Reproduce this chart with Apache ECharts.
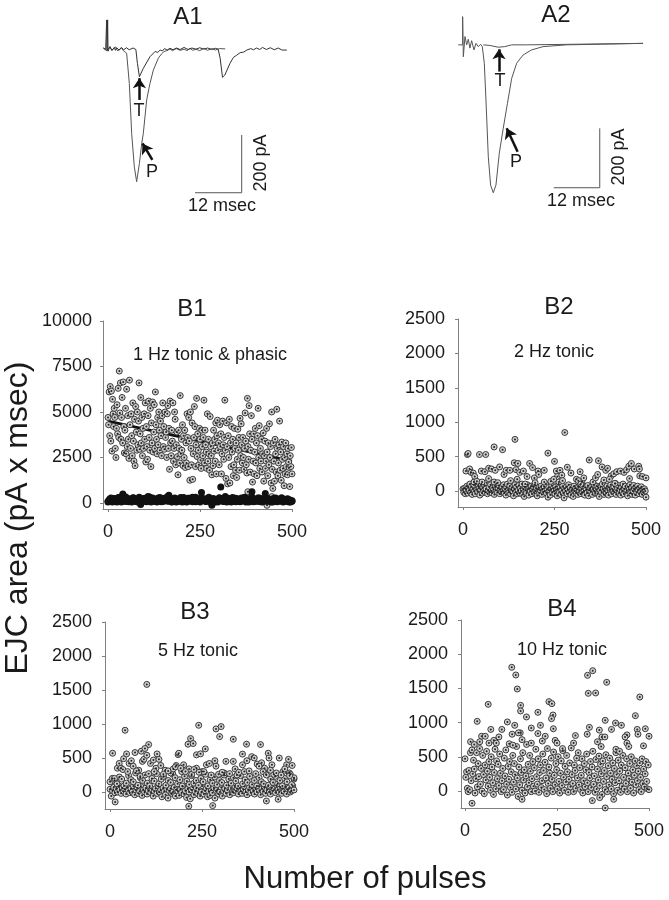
<!DOCTYPE html>
<html><head><meta charset="utf-8">
<script src="https://cdn.jsdelivr.net/npm/echarts@6/dist/echarts.min.js"></script>
<style>html,body{margin:0;padding:0;background:#fff}#c{width:669px;height:900px}</style></head>
<body><div id="c"></div>
<script>
// A1 traces: [msec, pA]
const a1Phasic=[[3.4,0],[4.2,-8],[5,4],[5.6,-6],[6.5,5],[7,-8],[7.6,-5],[8,2],[8.5,-8],[9.35,-17],[10.03,-121],[10.63,-293],[11.3,-408],[11.9,-460],[12.6,-397],[13.2,-328],[13.6,-293],[14.46,-178],[15.3,-121],[16.16,-75],[17.43,-34],[18.2,-20],[18.9,-11],[19.6,-8],[20.4,-2],[21,-8],[22,-1],[23,-7],[24,-3],[24.8,-8],[25.5,0],[26.2,-7],[27,-3],[28,-8],[29,0],[30,-7],[31,-1],[32,-6],[33,-1],[34.5,-2]];
const a1Tonic=[[3.4,2],[4,-4],[4.25,98],[4.35,-8],[4.5,98],[4.6,-10],[5.1,6],[5.6,-8],[6.2,3],[6.5,-7],[6.8,2],[7.4,-6],[8,3],[8.6,-5],[9.3,2],[10,-5],[11,1],[11.7,-4],[12.1,-52],[12.6,-98],[13.6,-69],[15.3,-29],[16.6,-11],[17.3,-14],[17.9,-6],[18.5,-9],[19,-1],[19.7,-6],[20.4,0],[21.2,-5],[22,1],[23,-4],[24,3],[25,-4],[26,1],[27,-3],[28,2],[29,-3],[30,1],[31,-4],[32,0],[32.7,-3],[33.2,-34],[33.8,-100],[34.4,-92],[35.7,-52],[36.6,-31],[37.4,-24],[38.3,-15],[39.2,-13],[40,-6],[41,-1],[41.7,-5],[42.5,1],[43.3,-4],[44,3],[45,-4],[46,2],[47,-5],[48,1],[49,-6],[50.2,-6]];
// A2 traces: [msec, pA]
const a2Phasic=[[2.17,-2],[3.3,-2],[3.3,93],[3.48,-42],[3.91,26],[4.35,-2],[4.78,17],[5.2,-13],[5.65,12],[6.26,-19],[6.78,3],[7.39,-8],[8,0],[8.43,-8],[8.96,-64],[9.39,-188],[10,-379],[10.6,-474],[11.3,-500],[12,-474],[12.87,-367],[13.9,-283],[15,-199],[16.1,-115],[17.4,-64],[19.1,-36],[21.3,-19],[24.3,-8],[30.4,-2],[50.4,3]];
const a2Tonic=[[8.7,-2],[10.4,-4],[12.6,-10],[14.3,-8],[16.1,-2],[20,-2],[50.4,3]];
const a1Arrows=[[[12.6,-178],[12.6,-103]],[[15.9,-385],[13.4,-328]]];
const a2Arrows=[[[12.8,-92],[12.8,-17]],[[17.65,-362],[14.8,-283]]];
const a1Scale=[[26.8,-498],[38.7,-498],[38.7,-299]];
const a2Scale=[[27.1,-483],[39.1,-483],[39.1,-283]];

// B1: phasic responses, one value per evenly spaced pulse
const b1Phasic=[4700,4300,6100,3700,6400,3400,6150,2850,5700,4900,4200,5200,4700,3000,2500,4100,5400,3800,6300,3600,
7250,4950,6600,3500,4700,5800,3300,6650,4200,2750,4000,5200,2700,6250,3100,4800,3500,2450,6750,4300,
3000,4900,3700,2600,5500,3400,2300,4600,2050,5300,3900,2900,5000,3200,4500,6600,2950,3800,5800,3300,
4700,2600,4100,3000,4900,3500,5500,2250,4200,3100,2400,4800,5600,3600,2900,5200,2000,4400,3300,5550,
2800,3900,5400,3000,6100,4300,3500,2700,4700,3200,5000,4000,2900,4500,3700,2600,4800,5500,3100,4200,
2950,5000,3600,3900,2500,4900,5350,3000,4100,1850,5600,3300,2600,4000,3400,5500,2300,3000,5000,4600,
2100,3200,3900,2550,1550,4000,3000,2200,5900,2700,3500,2900,4300,2050,3700,2500,4000,1950,3300,2200,
4900,3600,2000,4700,3400,1250,5000,3000,2100,4400,1300,2700,3600,5300,4200,2000,3200,5750,2550,3800,
2900,2100,4100,3500,2350,1900,4000,3100,2600,3600,5650,2200,4000,3200,2800,1900,4900,2300,3500,2700,
1800,4750,3100,2600,1550,3300,2050,4000,2850,3500,2300,4400,1600,3700,4550,2900,3300,2100,4300,3100,
3800,1600,2700,4500,3200,2400,3600,5650,2900,1350,4400,3100,1050,3700,2500,4600,1100,3300,2000,4200,
2800,3500,1500,2100,4100,3000,1800,3300,1400,2400,4050,2900,3600,1800,4650,2600,4350,3200,2200,3600,
2500,1850,3000,4950,3400,2100,1650,5750,3100,2400,5350,3800,1700,2900,4800,3500,1150,2300,3800,1600,
2800,4100,2200,3300,1500,3700,5200,2500,4250,1900,3000,2300,3500,1700,2700,3850,1200,2600,3400,1900,
2300,4100,2800,1500,3300,2100,4350,2500,3100,1100,5000,1850,800,3300,2300,1200,3500,2700,1700,5150,
3000,1500,2200,3200,4500,1800,2800,1250,3350,2400,1900,3100,950,2500,1600,3300,2000,2700,1550,3000,
2250,1950,900,2600,2000,3050,1600];
const b1Overlay=[[380,620],[445,350],[432,-130]];
const b1Tonic=[50,120,180,90,250,140,60,300,210,130,500,170,80,240,110,190,60,270,150,90,
210,130,-80,180,100,260,70,150,330,120,200,90,170,60,280,130,210,80,160,240,
110,430,190,70,230,140,60,180,120,300,90,210,150,60,260,130,180,320,100,70,
160,240,110,580,190,130,80,220,150,90,-130,200,60,170,110,260,880,140,80,360,
230,100,170,60,190,120,260,90,150,70,240,130,310,180,100,60,210,620,140,80,
190,110,270,70,160,120,520,90,230,140,60,200,110,280,80,170,130,240,60,200,150,90,180,60,120];
const b1Tonic2=[100,200,280,60,170,230,90,150,310,50,260,120,330,180,70,240,140,290,100,210,
60,320,160,80,250,190,110,350,130,60,270,200,90,230,150,300,70,180,260,120,
340,100,220,60,190,280,140,80,240,170,50,300,120,210,90,260,150,70,230,320,
110,180,60,270,140,240,90,200,310,60,150,250,100,180,60,290,130,220,80,170,
60,260,110,200,300,140,70,230,160,90,280,120,210,60,250,150,100,330,70,190,
130,270,80,220,60,160,300,110,240,90,180,60,260,140,70,210,120,290,80,170,100,230,60,150,90];
const b1Trend=[[0,4500],[125,3950],[250,3400],[375,2850],[500,2300]];

// B2
const b2Upper=[[8,290],[12,530],[14,545],[18,320],[22,270],[28,260],[32,210],[45,530],[50,290],[62,530],[60,280],[70,330],[85,640],[78,320],[88,300],[108,600],[100,350],[112,240],[118,300],[128,300],[142,750],[140,410],[150,400],[145,310],[155,270],[165,290],[175,210],[182,400],[190,340],[195,190],[205,290],[207,240],[222,300],[232,550],[250,430],[255,290],[258,210],[265,300],[270,230],[278,850],[285,345],[295,260],[310,170],[320,280],[325,130],[330,190],[345,450],[370,440],[380,350],[390,300],[395,330],[405,220],[412,250],[420,280],[430,290],[440,270],[447,310],[453,360],[460,400],[455,180],[468,320],[480,360],[482,320],[483,220],[490,210],[500,190],[30,130],[38,140],[52,130],[70,180],[85,130],[95,120],[130,150],[148,170],[170,100],[197,120],[222,130],[240,140],[248,170],[262,130],[272,150],[315,150],[322,100],[355,130],[362,190],[368,240],[385,160],[400,170],[415,110]];
const b2Band=[30,-20,40,-40,20,70,-30,50,10,100,-20,60,-50,30,90,0,-40,110,20,-10,70,40,-60,20,100,-30,50,0,80,-20,
30,120,-40,10,60,-20,90,0,-30,50,20,-50,70,10,110,-20,40,80,-40,20,-10,60,0,90,-30,30,-60,50,100,10,
-20,70,-40,20,50,0,-70,30,90,-20,60,-40,10,80,-30,40,0,100,-50,20,-80,60,10,-30,90,30,-60,40,0,70,
-40,20,60,-20,90,0,40,-70,20,50,-30,10,70,-50,30,-10,60,0,100,-30,20,-90,50,10,-60,30,80,-20,40,0,
-40,60,20,-70,30,100,-20,50,-50,10,70,-30,-100,40,0,60,-40,20,90,-20,50,-60,10,30,-80,70,0,40,-30,20,
-50,60,10,90,-40,30,-20,70,0,-60,50,20,-30,80,-70,10,40,-10,60,-50,30,90,0,-30,20,70,-40,50,-80,10,
60,-20,100,30,-50,0,40,-30,70,10,-60,50,20,90,-40,30,0,60,-20,110,-50,10,40,80,-30,20,-60,50,0,100,
-40,30,70,-20,10,-70,60,20,90,-30,40,-50,0,80,30,-60,50,-20,70,10,-40,40,-10,60,-50,20,-20,30,0,-90];
const b2Trend=[[0,40],[500,20]];

// B3
const b3Upper=[[7,570],[41,908],[100,1582],[105,698],[241,981],[219,786],[212,703],[226,713],[235,547],[246,561],[259,634],[288,928],[302,962],[298,815],[335,776],[371,703],[360,557],[409,698],[214,-210],[279,-200],[425,-132],[457,-107],[14,-146],
[20,350],[25,420],[30,350],[35,330],[37,490],[45,560],[52,420],[58,460],[63,380],[68,580],[78,320],[85,600],[88,450],[95,640],[92,480],[100,540],[110,420],[118,470],[125,350],[128,560],[133,480],[138,390],[150,320],[165,280],[180,390],[185,550],[187,570],[195,300],[200,400],[215,340],[222,260],[235,350],[250,300],[262,400],[270,420],[285,460],[288,380],[295,260],[310,280],[315,450],[335,450],[340,340],[345,250],[360,400],[372,460],[385,520],[392,500],[400,410],[412,430],[420,350],[430,570],[432,500],[440,400],[445,260],[460,500],[470,300],[480,400],[485,480],[490,260],[495,390],[500,210],
[12,200],[48,300],[72,310],[82,230],[105,270],[120,300],[145,260],[158,310],[172,340],[178,370],[192,350],[205,300],[228,330],[242,290],[255,300],[275,250],[305,290],[325,270],[350,290],[365,300],[378,310],[396,270],[405,380],[416,300],[425,250],[436,320],[452,280],[465,250],[475,340],[488,240]];
const b3Mid=[150,200,170,120,220,190,90,130,240,180,150,280,100,210,170,250,130,90,200,160,
270,120,190,230,100,170,140,260,210,120,180,90,230,160,110,240,130,170,100,200,
150,260,90,180,130,220,110,170,140,250,100,190,130,210,160,90,240,120,180,140,
230,110,170,90,210,150,120,260,100,190,140,230,120,170,90,200,150,280,110,190];
const b3Band=[40,-60,20,70,-10,50,0,90,30,-20,60,10,40,-30,70,20,-10,50,0,90,-40,30,60,-20,10,80,-50,30,0,60,
-30,20,70,-10,40,-60,10,50,-20,90,0,30,-70,60,10,-40,40,-90,20,50,-20,0,70,-60,30,10,-50,40,-10,80,
-30,20,-80,50,0,-100,30,70,-40,10,60,-20,40,-60,0,90,-30,20,50,-70,10,-50,30,-10,60,-90,20,40,-30,0,
70,-60,10,50,-20,30,100,-40,60,0,-10,90,20,50,-30,60,10,-20,40,80,0,-40,30,70,-10,50,20,-30,60,0,
90,20,-40,50,10,70,-20,30,90,0,-30,60,20,40,-10,100,30,0,70,-20,50,10,80,-30,40,60,0,20,90,30];
const b3Trend=[[0,50],[125,40],[250,0],[300,60],[375,30],[500,30]];

// B4
const b4Upper=[[127,1808],[138,1696],[142,1491],[63,1267],[151,1252],[151,1170],[167,1082],[33,1018],[198,1150],[228,1306],[236,1277],[239,1111],[235,1057],[333,1691],[347,1759],[335,1428],[355,1433],[385,1589],[475,1374],[463,1101],[381,1033],[409,994],[425,960],[115,1009],[19,-180],[155,-122],[346,-141],[366,-97],[381,-248],[404,-122],
[70,900],[100,900],[135,960],[150,850],[180,920],[198,840],[205,960],[210,730],[218,800],[240,910],[332,830],[338,930],[365,890],[372,790],[380,790],[398,900],[440,820],[468,900],[470,830],[490,910],[500,800],[45,800],[55,800],[40,720],[15,720],[25,680],[65,700],[78,740],[85,700],[92,790],[120,690],[128,830],[130,670],[145,850],[155,750],[180,700],[300,810],[295,700],[265,620],[245,740],[250,700],[370,650],[410,610],[420,580],[440,700],[435,790],[445,650],[485,660],[360,720]];
const b4Band=[470,200,280,40,-10,300,20,560,150,600,250,450,320,-30,180,560,60,400,210,620,100,330,0,520,240,-40,380,160,580,290,
70,430,200,10,500,350,120,-50,270,610,30,440,180,390,80,540,260,-10,150,330,20,480,220,600,100,-60,360,170,430,50,
280,-20,520,130,400,240,30,650,190,-80,350,90,470,270,10,560,160,310,-30,220,680,60,390,120,520,290,-10,180,430,70,
340,0,610,210,100,470,-20,270,380,50,150,540,300,20,420,190,-40,620,110,350,260,40,480,170,-10,570,230,90,400,310,
30,500,140,-30,260,440,80,590,200,10,360,130,520,280,-20,170,410,60,630,240,110,-10,380,300,40,480,190,560,90,340,
20,230,470,-30,150,400,60,310,540,120,-10,270,190,430,50,350,580,100,220,-20,460,30,320,160,510,80,390,250,-50,440,
140,300,20,530,210,-10,370,90,480,260,30,170,410,-40,330,120,560,240,10,450,150,290,-20,380,70,520,200,30,340,110,
470,-10,260,180,400,40,500,130,310,-30,230,440,90,370,150,290,20,410,200,-10,470,110,320,60,250,430,140,30,380,20];

const xTicks=[0,250,500];
const yTicksB1=[0,2500,5000,7500,10000];
const yTicksB=[0,500,1000,1500,2000,2500];

const withX=v=>v.map((y,i)=>[i*500/(v.length-1),y]);

const axisColor='#808080', ink='#1a1a1a';
const panels=[
 {g:{left:103,top:321,width:189,height:188},xmin:-13.6,ymin:-330,ymax:10000,ticks:yTicksB1,m:11},
 {g:{left:458,top:319,width:188,height:188},xmin:-13.7,ymin:-233,ymax:2500,ticks:yTicksB,m:13},
 {g:{left:105,top:622,width:189,height:187},xmin:-13.6,ymin:-250,ymax:2500,ticks:yTicksB,m:13},
 {g:{left:461,top:620,width:188,height:188},xmin:-11,ymin:-249,ymax:2500,ticks:yTicksB,m:13}
];
const grids=[],xAxes=[],yAxes=[],series=[];
const plain=v=>String(v);
const traceGrids=[{g:{left:90,top:0,width:210,height:220},xmax:53.57,ymin:-592,ymax:166.6},{g:{left:450,top:0,width:210,height:220},xmax:54.83,ymin:-591.6,ymax:149}];
traceGrids.forEach(t=>{grids.push(t.g);
 xAxes.push({type:'value',gridIndex:grids.length-1,min:0,max:t.xmax,show:false});
 yAxes.push({type:'value',gridIndex:grids.length-1,min:t.ymin,max:t.ymax,show:false});});
panels.forEach(p=>{grids.push(p.g);const gi=grids.length-1;
 xAxes.push({type:'value',gridIndex:gi,min:p.xmin,max:500,splitLine:{show:false},
  axisLine:{show:true,onZero:false,lineStyle:{color:axisColor,width:1}},
  axisTick:{show:true,length:3,customValues:xTicks,lineStyle:{color:axisColor}},
  axisLabel:{customValues:xTicks,formatter:plain,color:ink,fontSize:18,fontFamily:'Liberation Sans',margin:14,showMinLabel:true,showMaxLabel:true,hideOverlap:false}});
 yAxes.push({type:'value',gridIndex:gi,min:p.ymin,max:p.ymax,splitLine:{show:false},
  axisLine:{show:true,onZero:false,lineStyle:{color:axisColor,width:1}},
  axisTick:{show:true,length:3,customValues:p.ticks,lineStyle:{color:axisColor}},
  axisLabel:{customValues:p.ticks,formatter:plain,color:ink,fontSize:18,fontFamily:'Liberation Sans',margin:p.m,hideOverlap:false}});
});
function trace(gi,data,color,w){series.push({type:'line',xAxisIndex:gi,yAxisIndex:gi,data,symbol:'none',silent:true,animation:false,clip:false,lineStyle:{color,width:w}});}
function arrows(gi,list){series.push({type:'line',xAxisIndex:gi,yAxisIndex:gi,data:[],symbol:'none',animation:false,
 markLine:{silent:true,animation:false,symbol:['none','arrow'],symbolSize:10,label:{show:false},lineStyle:{type:'solid',color:'#111',width:2.5},
 data:list.map(a=>[{coord:a[0]},{coord:a[1]}])}});}
function circles(gi,data){
 series.push({type:'scatter',xAxisIndex:gi,yAxisIndex:gi,data,symbolSize:6,clip:false,animation:false,silent:true,itemStyle:{color:'#cfcfcf',borderColor:'#3a3a3a',borderWidth:1,opacity:1}});
 series.push({type:'scatter',xAxisIndex:gi,yAxisIndex:gi,data,symbolSize:2,clip:false,animation:false,silent:true,itemStyle:{color:'#222',opacity:1},z:3});
}
function trend(gi,data,w,z){series.push({type:'line',xAxisIndex:gi,yAxisIndex:gi,data,symbol:'none',animation:false,silent:true,lineStyle:{color:'#111',width:w},z});}

trace(0,a1Phasic,'#555',1);trace(0,a1Tonic,'#333',1);
trace(0,a1Scale,'#555',1);arrows(0,a1Arrows);
trace(1,a2Phasic,'#555',1);trace(1,a2Tonic,'#555',1);
trace(1,a2Scale,'#555',1);arrows(1,a2Arrows);

trend(2,b1Trend,3,1);
circles(2,withX(b1Phasic).concat(b1Overlay));
series.push({type:'scatter',xAxisIndex:2,yAxisIndex:2,data:withX(b1Tonic).concat(withX(b1Tonic2)),symbolSize:7,clip:false,animation:false,silent:true,itemStyle:{color:'#111',opacity:1},z:5});
circles(3,withX(b2Band).concat(b2Upper));trend(3,b2Trend,1.5,1);
circles(4,withX(b3Band).concat(withX(b3Mid),b3Upper));trend(4,b3Trend,1.5,1);
circles(5,withX(b4Band).concat(b4Upper));

function txt(s,x,y,size,rot){return {type:'text',x,y,rotation:rot||0,silent:true,z:20,
 style:{text:s,fontSize:size,fontFamily:'Liberation Sans',fill:'#1a1a1a',textAlign:'center',textVerticalAlign:'middle'}};}
const R=Math.PI/2;
const labels=[
 txt('A1',188,17,24),txt('A2',556,15,24),
 txt('T',139,111,18),txt('P',152,172,18),txt('T',500,81,18),txt('P',516,162,18),
 txt('200 pA',261,163,18,R),txt('12 msec',222,206,18),txt('200 pA',619,157,18,R),txt('12 msec',581,201,18),
 txt('B1',192,309,24),txt('B2',559,307,24),txt('B3',195,612,24),txt('B4',562,609,24),
 txt('1 Hz tonic & phasic',210,355,18),txt('2 Hz tonic',554,352,18),txt('5 Hz tonic',198,651,18),txt('10 Hz tonic',562,650,18),
 txt('EJC area (pA x msec)',18,518,32,R),txt('Number of pulses',365,879,31)
];
const chart=echarts.init(document.getElementById('c'),null,{renderer:'canvas'});
chart.setOption({animation:false,backgroundColor:'#fff',tooltip:{show:false},grid:grids,xAxis:xAxes,yAxis:yAxes,series,graphic:{elements:labels}});
</script></body></html>
